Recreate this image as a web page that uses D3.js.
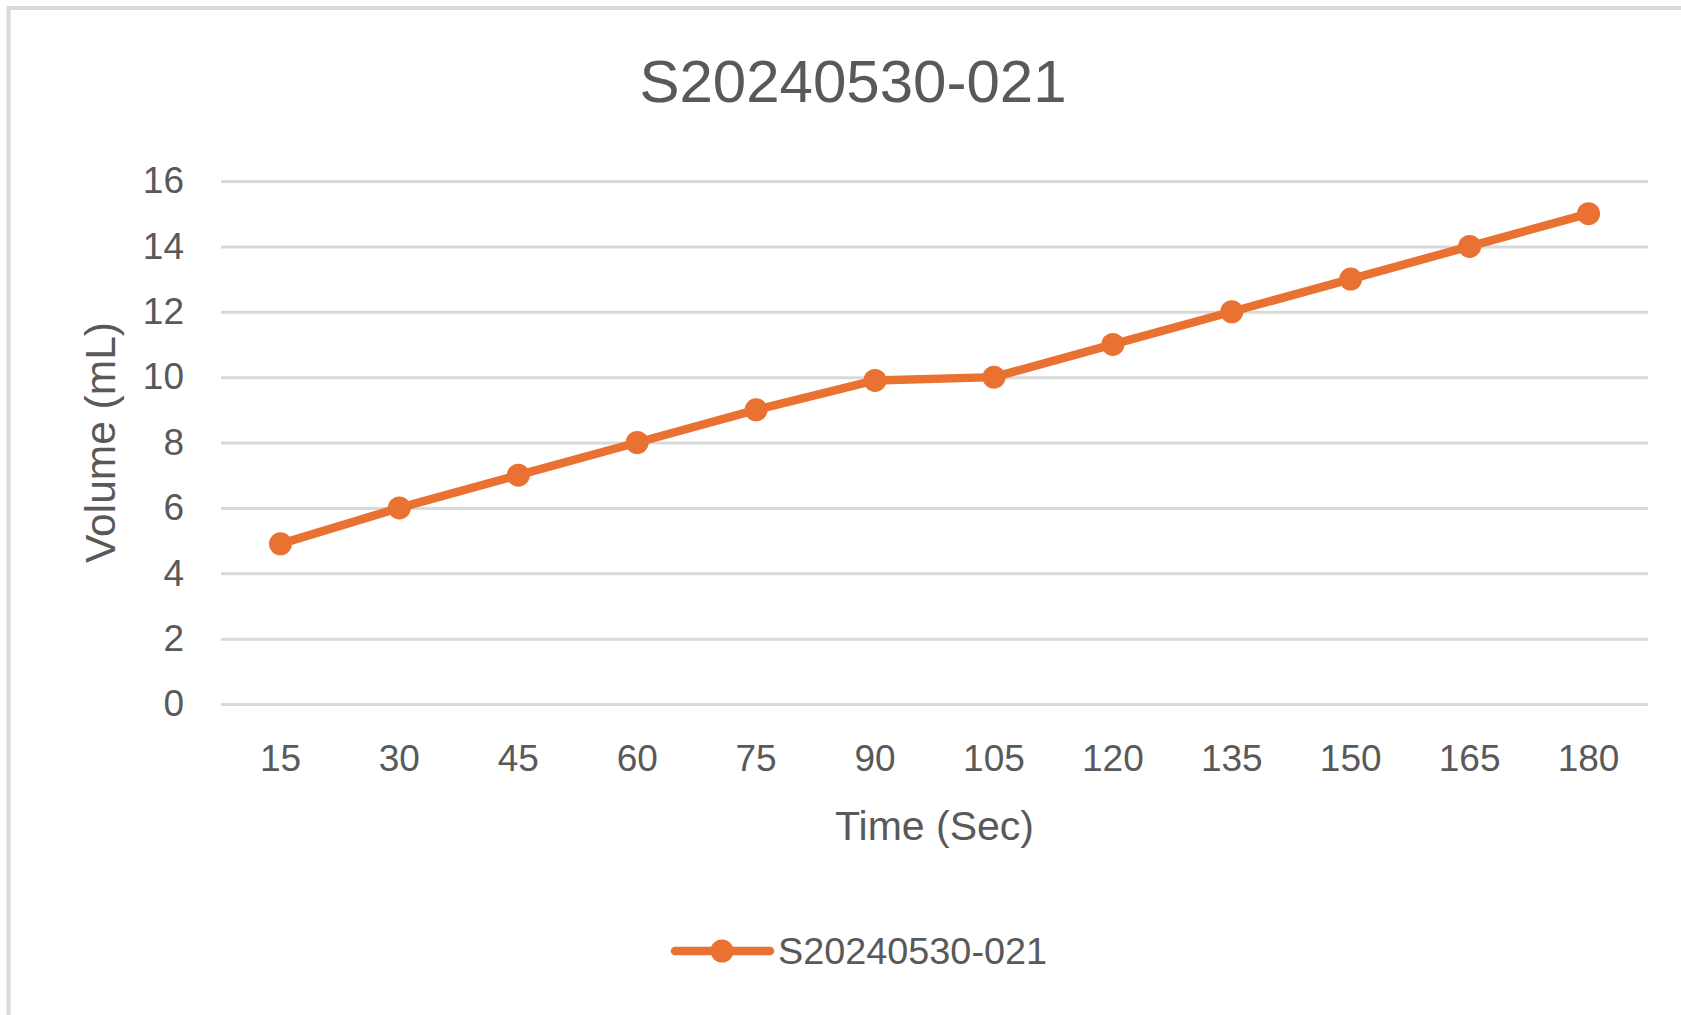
<!DOCTYPE html>
<html>
<head>
<meta charset="utf-8">
<script src="https://cdn.jsdelivr.net/npm/d3@7"></script>
<style>
  html, body { margin: 0; padding: 0; background: #fff; }
  svg { display: block; }
  text { font-family: "Liberation Sans", Arial, sans-serif; fill: #595959; }
</style>
</head>
<body>
<svg id="chart" width="1681" height="1015"></svg>
<script>
// Sample measurements: elapsed time vs. collected volume
const seriesName = "S20240530-021";
const times = ["15", "30", "45", "60", "75", "90", "105", "120", "135", "150", "165", "180"];
const volumes = [4.9, 6, 7, 8, 9, 9.9, 10, 11, 12, 13, 14, 15];
const yTicks = [0, 2, 4, 6, 8, 10, 12, 14, 16];

const W = 1681, H = 1015;
const plot = { left: 221, right: 1648, top: 181, bottom: 704 };
const orange = "#E97132";

const svg = d3.select("#chart");

// chart area frame (only top/left edges fall inside the view)
svg.append("rect")
  .attr("x", 8.5).attr("y", 8)
  .attr("width", W + 20).attr("height", H + 20)
  .attr("fill", "#fff")
  .attr("stroke", "#d9d9d9").attr("stroke-width", 4);

const x = d3.scaleBand().domain(times).range([plot.left, plot.right]);
const y = d3.scaleLinear().domain([0, 16]).range([plot.bottom, plot.top]);

// horizontal gridlines + value labels
const yAxis = d3.axisLeft(y).tickValues(yTicks).tickSize(-(plot.right - plot.left)).tickPadding(37);
const gy = svg.append("g").attr("transform", `translate(${plot.left},0)`).call(yAxis);
gy.select(".domain").remove();
gy.selectAll(".tick line").attr("stroke", "#d9d9d9").attr("stroke-width", 3);
gy.selectAll(".tick text").attr("font-size", 37).attr("fill", "#595959")
  .attr("font-family", "Liberation Sans, Arial, sans-serif");

// category labels
const xAxis = d3.axisBottom(x).tickSize(0).tickPadding(41);
const gx = svg.append("g").attr("transform", `translate(0,${plot.bottom})`).call(xAxis);
gx.select(".domain").remove();
gx.selectAll(".tick text").attr("font-size", 37).attr("fill", "#595959")
  .attr("font-family", "Liberation Sans, Arial, sans-serif");

const cx = d => x(d) + x.bandwidth() / 2;
const data = times.map((t, i) => ({ t, v: volumes[i] }));

// series line
svg.append("path")
  .datum(data)
  .attr("fill", "none")
  .attr("stroke", orange)
  .attr("stroke-width", 8.5)
  .attr("stroke-linejoin", "round")
  .attr("stroke-linecap", "round")
  .attr("d", d3.line().x(d => cx(d.t)).y(d => y(d.v)));

// markers
svg.append("g").selectAll("circle")
  .data(data).join("circle")
  .attr("cx", d => cx(d.t))
  .attr("cy", d => y(d.v))
  .attr("r", 11.5)
  .attr("fill", orange);

// title
svg.append("text")
  .attr("x", 853).attr("y", 102)
  .attr("text-anchor", "middle")
  .attr("font-size", 60)
  .text(seriesName);

// axis titles
svg.append("text")
  .attr("x", (plot.left + plot.right) / 2).attr("y", 840)
  .attr("text-anchor", "middle")
  .attr("font-size", 41)
  .text("Time (Sec)");

svg.append("text")
  .attr("transform", `translate(115,${(plot.top + plot.bottom) / 2}) rotate(-90)`)
  .attr("text-anchor", "middle")
  .attr("font-size", 42.5)
  .text("Volume (mL)");

// legend
const lg = svg.append("g").attr("transform", "translate(0,951)");
lg.append("line")
  .attr("x1", 675).attr("x2", 770).attr("y1", 0).attr("y2", 0)
  .attr("stroke", orange).attr("stroke-width", 8.5).attr("stroke-linecap", "round");
lg.append("circle").attr("cx", 722).attr("cy", 0).attr("r", 11.5).attr("fill", orange);
lg.append("text")
  .attr("x", 778).attr("y", 13)
  .attr("font-size", 37.8)
  .text(seriesName);
</script>
</body>
</html>
